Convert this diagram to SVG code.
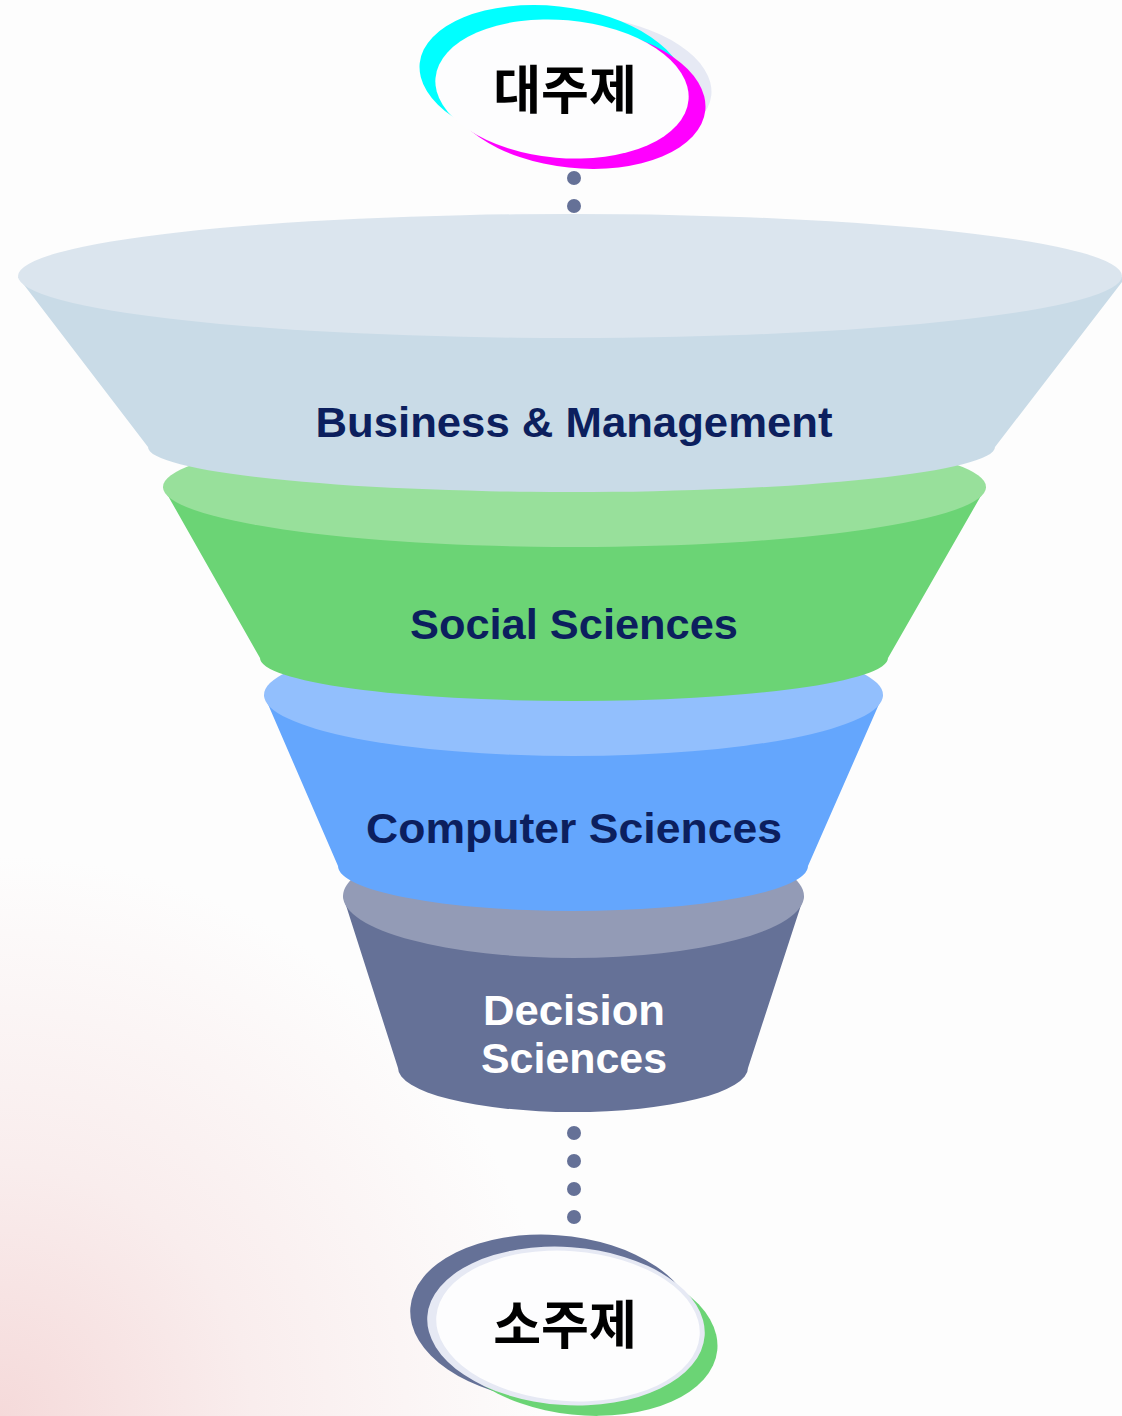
<svg xmlns="http://www.w3.org/2000/svg" width="1122" height="1416" viewBox="0 0 1122 1416">
  <defs>
    <radialGradient id="bg" cx="0" cy="1416" r="560" gradientUnits="userSpaceOnUse">
      <stop offset="0" stop-color="#f5dada"/>
      <stop offset="0.45" stop-color="#f9eded"/>
      <stop offset="1" stop-color="#fdfdfd"/>
    </radialGradient>
    <style>
      .lbl { font-family: "Liberation Sans", Arial, sans-serif; font-weight: 700; font-size: 42px; text-anchor: middle; fill: #0c1f5e; }
      .wlbl { fill: #ffffff; }
      .kr { font-family: "Noto Sans CJK KR", "Noto Sans", sans-serif; font-weight: 700; font-size: 52px; text-anchor: middle; fill: #000000; }
      .dot { fill: #657197; }
    </style>
  </defs>
  <rect width="1122" height="1416" fill="#fdfdfd"/>
  <rect width="1122" height="1416" fill="url(#bg)"/>

  <g id="connectors">
    <circle class="dot" cx="574" cy="178" r="7"/>
    <circle class="dot" cx="574" cy="206" r="7"/>
    <circle class="dot" cx="574" cy="1133" r="7"/>
    <circle class="dot" cx="574" cy="1161" r="7"/>
    <circle class="dot" cx="574" cy="1189" r="7"/>
    <circle class="dot" cx="574" cy="1217" r="7"/>
  </g>

  <g id="decision-sciences">
    <path d="M 343 896 L 398 1068 A 175 44 0 0 0 748 1068 L 804 896 Z" fill="#657197"/>
    <ellipse cx="573.5" cy="896" rx="230.5" ry="62" fill="#939bb6"/>
    <text class="lbl wlbl" x="574" y="1025" textLength="182" lengthAdjust="spacingAndGlyphs">Decision</text>
    <text class="lbl wlbl" x="574" y="1073" textLength="186" lengthAdjust="spacingAndGlyphs">Sciences</text>
  </g>

  <g id="computer-sciences">
    <path d="M 264 695 L 338 866 A 235 45 0 0 0 808 866 L 883 695 Z" fill="#64a6fd"/>
    <ellipse cx="573.5" cy="695" rx="309.5" ry="61" fill="#92bffd"/>
    <text class="lbl" x="574" y="843" textLength="416" lengthAdjust="spacingAndGlyphs">Computer Sciences</text>
  </g>

  <g id="social-sciences">
    <path d="M 163 487 L 260 658 A 314 43 0 0 0 888 658 L 986 487 Z" fill="#6bd475"/>
    <ellipse cx="574.5" cy="487" rx="411.5" ry="60" fill="#98e09b"/>
    <text class="lbl" x="574" y="639" textLength="328" lengthAdjust="spacingAndGlyphs">Social Sciences</text>
  </g>

  <g id="business-management">
    <path d="M 18 277 L 148 447 A 423.5 45 0 0 0 995 447 L 1122 282 L 1122 277 Z" fill="#c9dbe7"/>
    <ellipse cx="570" cy="276" rx="552" ry="62" fill="#dbe5ee"/>
    <text class="lbl" x="574" y="437" textLength="517" lengthAdjust="spacingAndGlyphs">Business &amp; Management</text>
  </g>

  <g id="main-topic">
    <ellipse cx="585" cy="82" rx="127" ry="66" fill="#e6e9f4" transform="rotate(6 585 82)"/>
    <ellipse cx="552" cy="77" rx="133" ry="71" fill="#00ffff" transform="rotate(6 552 77)"/>
    <ellipse cx="576" cy="97" rx="130" ry="71" fill="#ff00ff" transform="rotate(6 576 97)"/>
    <ellipse cx="562" cy="89" rx="127" ry="69" fill="#fdfdfe" transform="rotate(5 562 89)"/>
    <text class="kr" x="565" y="109">대주제</text>
  </g>

  <g id="sub-topic">
    <ellipse cx="552" cy="1318" rx="142" ry="83" fill="#657197" transform="rotate(4 552 1318)"/>
    <ellipse cx="580" cy="1336" rx="138" ry="79" fill="#6bd475" transform="rotate(6 580 1336)"/>
    <ellipse cx="566" cy="1326" rx="139" ry="79" fill="#e6e9f4" transform="rotate(4 566 1326)"/>
    <ellipse cx="568" cy="1326" rx="132" ry="75" fill="#fdfdfe" transform="rotate(4 568 1326)"/>
    <text class="kr" x="565" y="1344">소주제</text>
  </g>
</svg>
